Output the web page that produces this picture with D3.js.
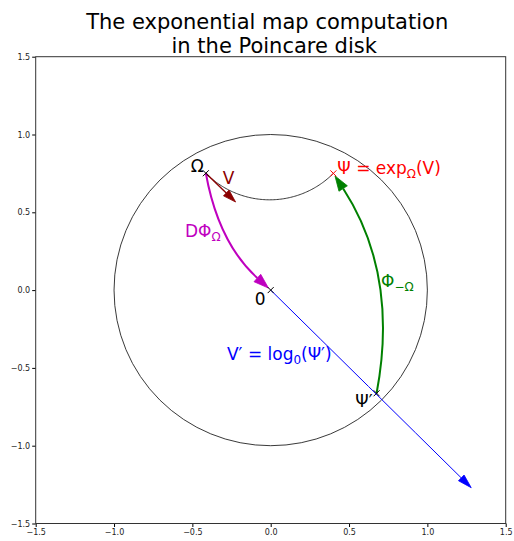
<!DOCTYPE html>
<html>
<head>
<meta charset="utf-8">
<script src="https://cdn.jsdelivr.net/npm/d3@7"></script>
<style>
  body { margin: 0; background: #fff; }
  text { font-family: "DejaVu Sans", sans-serif; }
</style>
</head>
<body>
<svg width="514" height="541"></svg>
<script>
// points in the disk (data coords)
var pointNames = ['Ω', 'Ψ', '0', 'Ψ′']
var pointX = [-0.414, 0.40, 0, 0.676]
var pointY = [0.751, 0.75, 0, -0.663]
var pointColors = ['black', 'red', 'black', 'black']
// tangent vector V at Omega, and V' = log_0(Psi')
var vecV = [0.19, -0.185]
var vecVprime = [1.28, -1.27]
var tickValues = [-1.5, -1.0, -0.5, 0.0, 0.5, 1.0, 1.5]

var svg = d3.select('svg')
var x = d3.scaleLinear().domain([-1.5, 1.5]).range([35.7, 505.7])
var y = d3.scaleLinear().domain([-1.5, 1.5]).range([523.5, 56.7])

function P(i) { return [x(pointX[i]), y(pointY[i])] }

// title (trailing / leading spaces shift the two lines a bit)
var title = svg.append('text')
    .attr('text-anchor', 'middle')
    .style('font-size', '21px')
    .attr('fill', 'black')
title.append('tspan').attr('x', 267.2).attr('y', 28.5).text('The exponential map computation')
title.append('tspan').attr('x', 274.2).attr('y', 52.5).text('in the Poincare disk')

// axes
var fmt = d3.format('.1f')
svg.append('g')
    .attr('transform', 'translate(0,' + y(-1.5) + ')')
    .call(d3.axisBottom(x).tickValues(tickValues).tickFormat(fmt).tickSize(3.5).tickPadding(2))
svg.append('g')
    .attr('transform', 'translate(' + x(-1.5) + ',0)')
    .call(d3.axisLeft(y).tickValues(tickValues).tickFormat(fmt).tickSize(3.5).tickPadding(2))
svg.selectAll('.tick text').style('font-size', '8px').attr('fill', '#222')
svg.selectAll('.domain').remove()
svg.append('rect')
    .attr('x', x(-1.5)).attr('y', y(1.5))
    .attr('width', x(1.5) - x(-1.5)).attr('height', y(-1.5) - y(1.5))
    .attr('fill', 'none').attr('stroke', '#333').attr('stroke-width', 1)

// unit circle
svg.append('ellipse')
    .attr('cx', x(0)).attr('cy', y(0))
    .attr('rx', x(1) - x(0)).attr('ry', y(0) - y(1))
    .attr('fill', 'none').attr('stroke', '#222').attr('stroke-width', 0.9)

// geodesic between Omega and Psi (circle orthogonal to the unit circle)
function geodesic(p, q) {
    var a1 = 2 * p[0], b1 = 2 * p[1], c1 = 1 + p[0] * p[0] + p[1] * p[1]
    var a2 = 2 * q[0], b2 = 2 * q[1], c2 = 1 + q[0] * q[0] + q[1] * q[1]
    var det = a1 * b2 - a2 * b1
    var cx = (c1 * b2 - c2 * b1) / det
    var cy = (a1 * c2 - a2 * c1) / det
    var r = Math.hypot(p[0] - cx, p[1] - cy)
    var t1 = Math.atan2(p[1] - cy, p[0] - cx)
    var t2 = Math.atan2(q[1] - cy, q[0] - cx)
    var d = t2 - t1
    while (d > Math.PI) d -= 2 * Math.PI
    while (d < -Math.PI) d += 2 * Math.PI
    return d3.range(0, 101).map(function (k) {
        var t = t1 + d * k / 100
        return [cx + r * Math.cos(t), cy + r * Math.sin(t)]
    })
}
svg.append('path')
    .attr('d', d3.line().x(d => x(d[0])).y(d => y(d[1]))(geodesic([pointX[0], pointY[0]], [pointX[1], pointY[1]])))
    .attr('fill', 'none').attr('stroke', '#222').attr('stroke-width', 0.9)

// arrow helper (pixel coords); rad like matplotlib arc3
function arrow(a, b, rad, color, lw, hl, hw, shrink) {
    var dx = b[0] - a[0], dy = b[1] - a[1]
    var c = [(a[0] + b[0]) / 2 - rad * dy, (a[1] + b[1]) / 2 + rad * dx]
    // tangent at end
    var tx = b[0] - c[0], ty = b[1] - c[1]
    var tl = Math.hypot(tx, ty)
    tx /= tl; ty /= tl
    var tip = [b[0] - tx * shrink, b[1] - ty * shrink]
    var base = [tip[0] - tx * hl, tip[1] - ty * hl]
    svg.append('path')
        .attr('d', 'M' + a + 'Q' + c + ' ' + base)
        .attr('fill', 'none').attr('stroke', color).attr('stroke-width', lw)
    svg.append('path')
        .attr('d', 'M' + tip + 'L' + [base[0] - ty * hw / 2, base[1] + tx * hw / 2] +
            'L' + [base[0] + ty * hw / 2, base[1] - tx * hw / 2] + 'Z')
        .attr('fill', color).attr('stroke', color).attr('stroke-width', 0.8)
}

// V' = log_0(Psi')
arrow(P(2), [x(vecVprime[0]), y(vecVprime[1])], 0, 'blue', 1, 14, 8, 0)
// V at Omega
arrow(P(0), [x(pointX[0] + vecV[0]), y(pointY[0] + vecV[1])], 0, '#8b0000', 1.4, 13, 8, 0)
// D Phi_Omega : Omega -> 0
arrow(P(0), P(2), 0.17, '#bf00bf', 2, 15, 10, 3)
// Phi_{-Omega} : Psi' -> Psi
arrow(P(3), P(1), 0.2, 'green', 2, 15, 10, 3)

// point markers
pointNames.forEach(function (n, i) {
    var p = P(i), s = 3
    svg.append('path')
        .attr('d', 'M' + (p[0] - s) + ',' + (p[1] - s) + 'L' + (p[0] + s) + ',' + (p[1] + s) +
            'M' + (p[0] - s) + ',' + (p[1] + s) + 'L' + (p[0] + s) + ',' + (p[1] - s))
        .attr('stroke', pointColors[i]).attr('stroke-width', 1)
})

// labels
function label(px, py, anchor, color, parts) {
    var t = svg.append('text')
        .attr('x', px).attr('y', py)
        .attr('text-anchor', anchor)
        .attr('fill', color)
        .style('font-size', '17px')
    parts.forEach(function (p) {
        var ts = t.append('tspan').text(p[0])
        if (p[1] === 'sub') ts.style('font-size', '12px').attr('dy', 4)
        if (p[1] === 'up') ts.attr('dy', -4)
    })
}
var pO = P(0), pS = P(1), p0 = P(2), pS2 = P(3)
label(pO[0] - 2, pO[1] - 1, 'end', 'black', [['Ω']])
label(pO[0] + 17, pO[1] + 11, 'start', '#8b0000', [['V']])
label(pS[0] + 4, pS[1] + 1, 'start', 'red', [['Ψ = exp'], ['Ω', 'sub'], ['(V)', 'up']])
label(x(-0.547), y(0.341), 'start', '#bf00bf', [['DΦ'], ['Ω', 'sub']])
label(x(0.704), y(0.02), 'start', 'green', [['Φ'], ['−Ω', 'sub']])
label(p0[0] - 5, p0[1] + 15, 'end', 'black', [['0']])
label(x(-0.279), y(-0.449), 'start', 'blue', [['V′ = log'], ['0', 'sub'], ['(Ψ′)', 'up']])
label(pS2[0] - 4, pS2[1] + 14, 'end', 'black', [['Ψ′']])
</script>
</body>
</html>
